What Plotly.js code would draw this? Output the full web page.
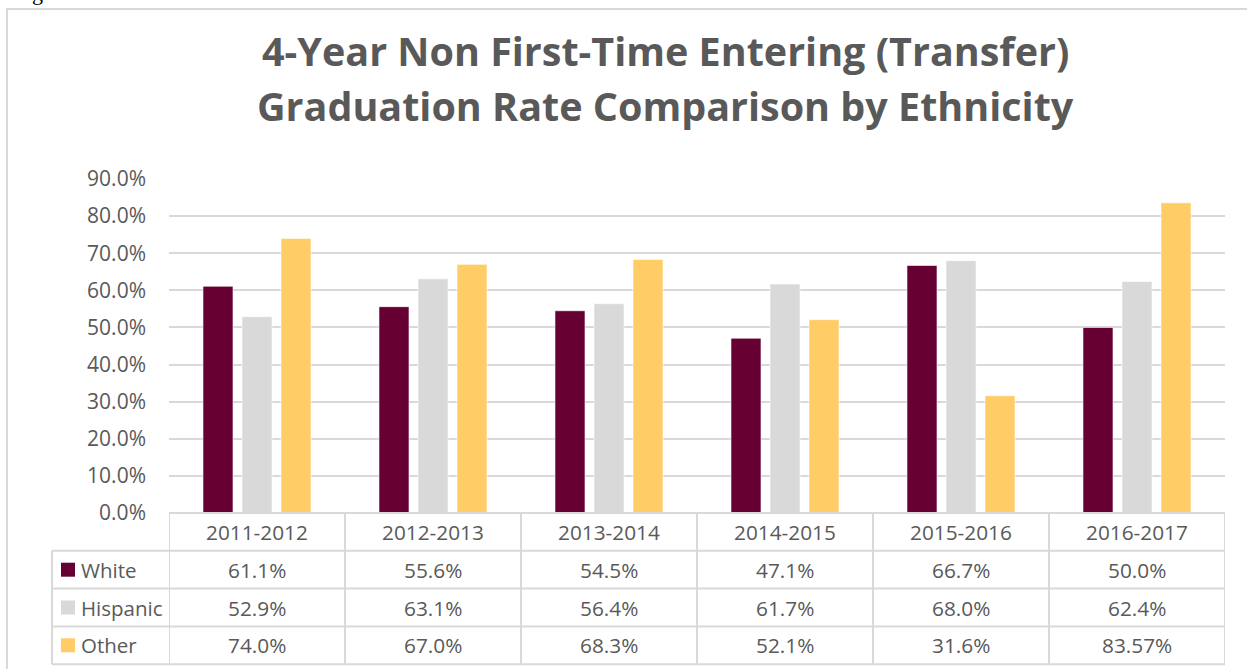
<!DOCTYPE html>
<html>
<head>
<meta charset="utf-8">
<script src="https://cdn.plot.ly/plotly-3.0.1.min.js"></script>
<style>html,body{margin:0;padding:0;background:#fff;}#chart{width:1247px;height:669px;}</style>
</head>
<body>
<div id="chart"></div>
<script>
const categories = ['2011-2012','2012-2013','2013-2014','2014-2015','2015-2016','2016-2017'];
const seriesNames = ['White','Hispanic','Other'];
const white = [61.1, 55.6, 54.5, 47.1, 66.7, 50.0];
const hispanic = [52.9, 63.1, 56.4, 61.7, 68.0, 62.4];
const other = [74.0, 67.0, 68.3, 52.1, 31.6, 83.57];
const yTicks = [0,10,20,30,40,50,60,70,80,90];

const colors = ['#660033', '#D9D9D9', '#FFCC66'];
const textColor = '#595959';
const lineColor = '#D9D9D9';
const font = 'Open Sans, Noto Sans, sans-serif';

// plot geometry (pixels)
const W = 1247, H = 669;
const L = 169, R = 22, T = 179, B = 156;
const PW = W - L - R, PH = H - T - B;
const px = p => (p - L) / PW;       // pixel x -> paper
const py = p => (H - B - p) / PH;   // pixel y -> paper

const fmt = v => (Math.round(v * 10) === v * 10 ? v.toFixed(1) : String(v)) + '%';

const all = [white, hispanic, other];
const traces = all.map((vals, i) => ({
  type: 'bar', name: seriesNames[i], x: categories, y: vals,
  marker: {color: colors[i], line: {color: 'rgba(255,255,255,0.6)', width: 1}},
  hoverinfo: 'x+y'
}));

const shapes = [];
const annotations = [];
// outer chart border
shapes.push({type:'rect', xref:'paper', yref:'paper', x0:px(7), x1:px(1260), y0:py(680), y1:py(9),
  line:{color:'#D9D9D9', width:2}, fillcolor:'rgba(0,0,0,0)', layer:'below'});
// table horizontal lines
const rowTop = 513, rowH = 37.8;
shapes.push({type:'line', xref:'paper', yref:'paper', x0:0, x1:1, y0:py(rowTop), y1:py(rowTop), line:{color:lineColor, width:2}});
for (let r = 1; r <= 4; r++) {
  const y = py(rowTop + r * rowH);
  shapes.push({type:'line', xref:'paper', yref:'paper', x0:px(52), x1:1, y0:y, y1:y, line:{color:lineColor, width:2}});
}
// table vertical lines
shapes.push({type:'line', xref:'paper', yref:'paper', x0:px(52), x1:px(52), y0:py(rowTop + rowH), y1:py(rowTop + 4*rowH), line:{color:lineColor, width:2}});
for (let k = 0; k <= categories.length; k++) {
  shapes.push({type:'line', xref:'x', yref:'paper', x0:k - 0.5, x1:k - 0.5, y0:py(rowTop), y1:py(rowTop + 4*rowH), line:{color:lineColor, width:2}});
}
// header labels
categories.forEach(c => annotations.push({x:c, xref:'x', y:py(rowTop + rowH/2), yref:'paper', text:c,
  showarrow:false, xanchor:'center', yanchor:'middle', font:{family:font, size:20.8, color:textColor}}));
// rows
all.forEach((vals, i) => {
  const yc = py(rowTop + rowH*(i + 1.5));
  shapes.push({type:'rect', xref:'paper', yref:'paper', x0:px(61), x1:px(75), y0:py(rowTop + rowH*(i+1.5) + 7), y1:py(rowTop + rowH*(i+1.5) - 7),
    line:{width:0}, fillcolor:colors[i]});
  annotations.push({x:px(79), xref:'paper', y:yc, yref:'paper', text:seriesNames[i], showarrow:false,
    xanchor:'left', yanchor:'middle', font:{family:font, size:20.5, color:textColor}});
  vals.forEach((v, j) => annotations.push({x:categories[j], xref:'x', y:yc, yref:'paper', text:fmt(v),
    showarrow:false, xanchor:'center', yanchor:'middle', font:{family:font, size:20.8, color:textColor}}));
});
// title lines
annotations.push({x:px(665), xref:'paper', y:py(51), yref:'paper', text:'<b>4-Year Non First-Time Entering (Transfer)</b>',
  showarrow:false, xanchor:'center', yanchor:'middle', font:{family:font, size:39.5, color:textColor}});
annotations.push({x:px(665), xref:'paper', y:py(106), yref:'paper', text:'<b>Graduation Rate Comparison by Ethnicity</b>',
  showarrow:false, xanchor:'center', yanchor:'middle', font:{family:font, size:39.5, color:textColor}});
// cut-off caption fragment at top-left
annotations.push({x:px(30), xref:'paper', y:py(-8), yref:'paper', text:'g', showarrow:false, xanchor:'left', yanchor:'middle',
  font:{family:'Liberation Serif, serif', size:22, color:'#000'}});

const layout = {
  width: W, height: H,
  margin: {l:L, r:R, t:T, b:B, pad:0},
  paper_bgcolor:'#fff', plot_bgcolor:'#fff',
  barmode:'group', bargap:0.335, bargroupgap:0.23,
  showlegend:false,
  xaxis:{type:'category', showticklabels:false, showgrid:false, zeroline:false, showline:false, ticks:'', range:[-0.5, 5.5]},
  yaxis:{range:[0,90], tickvals:yTicks, ticktext:yTicks.map(v => v.toFixed(1) + '%'),
    showgrid:true, gridcolor:lineColor, gridwidth:2, zeroline:false, showline:false, ticks:'',
    ticklabelstandoff:22, tickfont:{family:font, size:21, color:textColor}},
  shapes, annotations
};
Plotly.newPlot('chart', traces, layout, {displayModeBar:false, staticPlot:true});
</script>
</body>
</html>
